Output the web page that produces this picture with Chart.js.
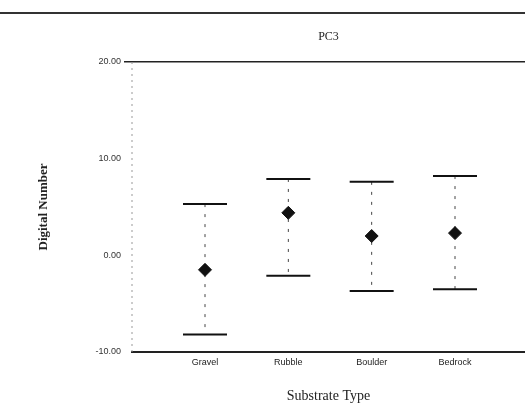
<!DOCTYPE html>
<html>
<head>
<meta charset="utf-8">
<script src="https://cdn.jsdelivr.net/npm/chart.js@4"></script>
<style>
  body { margin: 0; background: #fff; overflow: hidden; }
  #wrap { position: relative; width: 525px; height: 418px; }
  #frameLine { position: absolute; left: 0; top: 12px; width: 525px; border-top: 2px solid #333; }
  canvas { display: block; }
</style>
</head>
<body>
<div id="wrap">
  <div id="frameLine"></div>
  <canvas id="pcChart" width="525" height="418"></canvas>
</div>
<script>
// data
const categories = ["Gravel", "Rubble", "Boulder", "Bedrock"];
const means = [-1.5, 4.4, 2.0, 2.3];
const highs = [5.3, 7.9, 7.6, 8.2];
const lows  = [-8.2, -2.1, -3.7, -3.5];
const yTicks = [-10, 0, 10, 20];

// error bars (dashed stem + caps) and the faint dashed left axis, drawn under the diamonds
const whiskers = {
    id: "whiskers",
    beforeDatasetsDraw(chart) {
        const {ctx, chartArea, scales: {x, y}} = chart;
        ctx.save();
        ctx.strokeStyle = "#999";
        ctx.lineWidth = 1;
        ctx.setLineDash([2, 4]);
        ctx.beginPath(); ctx.moveTo(chartArea.left, chartArea.top); ctx.lineTo(chartArea.left, chartArea.bottom); ctx.stroke();
        categories.forEach((c, i) => {
            const px = x.getPixelForValue(i + 1);
            const top = y.getPixelForValue(highs[i]);
            const bot = y.getPixelForValue(lows[i]);
            ctx.strokeStyle = "#444";
            ctx.lineWidth = 1;
            ctx.setLineDash([3, 7]);
            ctx.beginPath(); ctx.moveTo(px, top); ctx.lineTo(px, bot); ctx.stroke();
            ctx.setLineDash([]);
            ctx.strokeStyle = "#111";
            ctx.lineWidth = 2;
            [top, bot].forEach(py => {
                ctx.beginPath(); ctx.moveTo(px - 22, py); ctx.lineTo(px + 22, py); ctx.stroke();
            });
        });
        ctx.restore();
    }
};

const ctxPC = document.getElementById("pcChart").getContext("2d");
const pcChart = new Chart(ctxPC, {
    type: "scatter",
    data: {
        datasets: [{
            data: categories.map((c, i) => ({x: i + 1, y: means[i]})),
            pointStyle: "rectRot",
            pointRadius: 6.5,
            backgroundColor: "#111",
            borderColor: "#111"
        }]
    },
    options: {
        responsive: false,
        animation: false,
        layout: {padding: 0, autoPadding: false},
        plugins: {
            legend: {display: false},
            tooltip: {enabled: false},
            title: {
                display: true,
                text: "PC3",
                fullSize: false,
                color: "#222",
                font: {family: "Liberation Serif", size: 12, weight: "normal"},
                padding: {top: 30, bottom: 17.6}
            }
        },
        scales: {
            x: {
                type: "linear",
                min: 0.124,
                max: 4.84,
                afterBuildTicks: s => { s.ticks = categories.map((c, i) => ({value: i + 1})); },
                afterFit: s => { s.height = 66; },
                grid: {display: false, drawTicks: false},
                border: {display: true, color: "#222", width: 2},
                ticks: {
                    padding: 5,
                    color: "#222",
                    font: {family: "Liberation Sans", size: 9},
                    callback: v => categories[v - 1]
                },
                title: {
                    display: true,
                    text: "Substrate Type",
                    color: "#222",
                    font: {family: "Liberation Serif", size: 14},
                    padding: {top: 0, bottom: 13}
                }
            },
            y: {
                min: -10,
                max: 20,
                afterBuildTicks: s => { s.ticks = yTicks.map(v => ({value: v})); },
                afterFit: s => { s.width = 132; },
                grid: {
                    color: c => c.tick && c.tick.value === 20 ? "#222" : "rgba(0,0,0,0)",
                    tickColor: c => c.tick && c.tick.value === 20 ? "#222" : "rgba(0,0,0,0)",
                    lineWidth: 1.5,
                    tickLength: 8
                },
                border: {display: false},
                ticks: {
                    padding: 3,
                    color: "#333",
                    font: {family: "Liberation Sans", size: 9},
                    callback: v => v.toFixed(2)
                },
                title: {
                    display: true,
                    text: "Digital Number",
                    color: "#222",
                    font: {family: "Liberation Serif", size: 13, weight: "bold"},
                    padding: {top: 36, bottom: 0}
                }
            }
        }
    },
    plugins: [whiskers]
});
</script>
</body>
</html>
